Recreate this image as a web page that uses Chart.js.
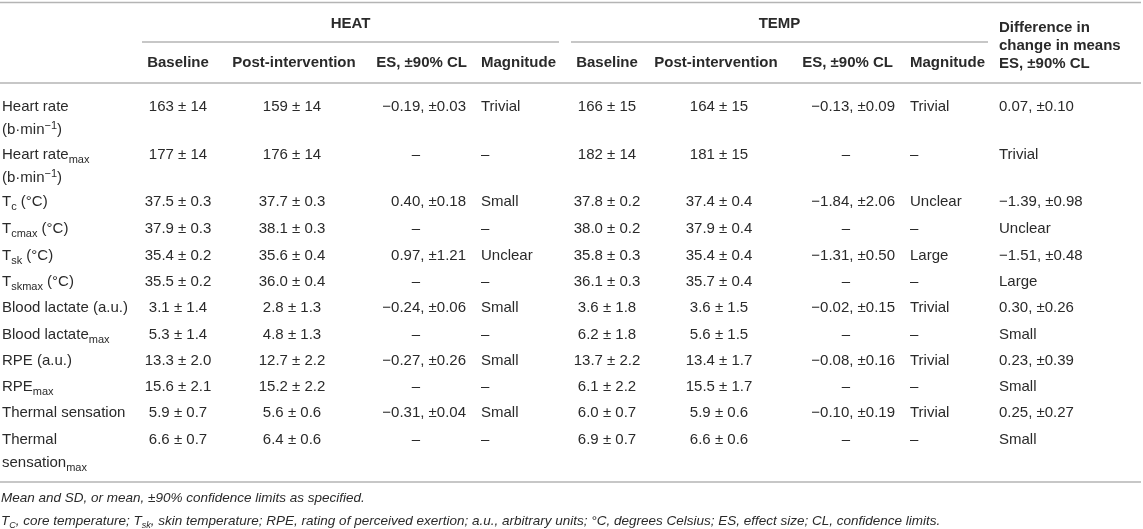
<!DOCTYPE html>
<html>
<head>
<meta charset="utf-8">
<script src="https://cdn.jsdelivr.net/npm/chart.js@4.4.1/dist/chart.umd.min.js"></script>
<style>
  html, body { margin: 0; padding: 0; background: #fff; }
  #wrap { width: 1143px; height: 529px; position: relative; }
</style>
</head>
<body>
<div id="wrap"><canvas id="tbl"></canvas></div>
<script>
// ==========================================
// TABLE DATA
// _{..} = subscript, ^{..} = superscript
// ==========================================
const groupTitles = ['HEAT', 'TEMP'];
const columnHeads = ['Baseline', 'Post-intervention', 'ES, \u00b190% CL', 'Magnitude'];
const diffHead = ['Difference in', 'change in means', 'ES, \u00b190% CL'];

const rowLabels = [
    ['Heart rate', '(b\u00b7min^{\u22121})'],
    ['Heart rate_{max}', '(b\u00b7min^{\u22121})'],
    ['T_{c} (\u00b0C)'],
    ['T_{cmax} (\u00b0C)'],
    ['T_{sk} (\u00b0C)'],
    ['T_{skmax} (\u00b0C)'],
    ['Blood lactate (a.u.)'],
    ['Blood lactate_{max}'],
    ['RPE (a.u.)'],
    ['RPE_{max}'],
    ['Thermal sensation'],
    ['Thermal', 'sensation_{max}']
];

const heatBaseline = ['163 \u00b1 14', '177 \u00b1 14', '37.5 \u00b1 0.3', '37.9 \u00b1 0.3', '35.4 \u00b1 0.2', '35.5 \u00b1 0.2', '3.1 \u00b1 1.4', '5.3 \u00b1 1.4', '13.3 \u00b1 2.0', '15.6 \u00b1 2.1', '5.9 \u00b1 0.7', '6.6 \u00b1 0.7'];
const heatPost     = ['159 \u00b1 14', '176 \u00b1 14', '37.7 \u00b1 0.3', '38.1 \u00b1 0.3', '35.6 \u00b1 0.4', '36.0 \u00b1 0.4', '2.8 \u00b1 1.3', '4.8 \u00b1 1.3', '12.7 \u00b1 2.2', '15.2 \u00b1 2.2', '5.6 \u00b1 0.6', '6.4 \u00b1 0.6'];
const heatES       = ['\u22120.19, \u00b10.03', '\u2013', '0.40, \u00b10.18', '\u2013', '0.97, \u00b11.21', '\u2013', '\u22120.24, \u00b10.06', '\u2013', '\u22120.27, \u00b10.26', '\u2013', '\u22120.31, \u00b10.04', '\u2013'];
const heatMag      = ['Trivial', '\u2013', 'Small', '\u2013', 'Unclear', '\u2013', 'Small', '\u2013', 'Small', '\u2013', 'Small', '\u2013'];

const tempBaseline = ['166 \u00b1 15', '182 \u00b1 14', '37.8 \u00b1 0.2', '38.0 \u00b1 0.2', '35.8 \u00b1 0.3', '36.1 \u00b1 0.3', '3.6 \u00b1 1.8', '6.2 \u00b1 1.8', '13.7 \u00b1 2.2', '6.1 \u00b1 2.2', '6.0 \u00b1 0.7', '6.9 \u00b1 0.7'];
const tempPost     = ['164 \u00b1 15', '181 \u00b1 15', '37.4 \u00b1 0.4', '37.9 \u00b1 0.4', '35.4 \u00b1 0.4', '35.7 \u00b1 0.4', '3.6 \u00b1 1.5', '5.6 \u00b1 1.5', '13.4 \u00b1 1.7', '15.5 \u00b1 1.7', '5.9 \u00b1 0.6', '6.6 \u00b1 0.6'];
const tempES       = ['\u22120.13, \u00b10.09', '\u2013', '\u22121.84, \u00b12.06', '\u2013', '\u22121.31, \u00b10.50', '\u2013', '\u22120.02, \u00b10.15', '\u2013', '\u22120.08, \u00b10.16', '\u2013', '\u22120.10, \u00b10.19', '\u2013'];
const tempMag      = ['Trivial', '\u2013', 'Unclear', '\u2013', 'Large', '\u2013', 'Trivial', '\u2013', 'Trivial', '\u2013', 'Trivial', '\u2013'];

const diffES = ['0.07, \u00b10.10', 'Trivial', '\u22121.39, \u00b10.98', 'Unclear', '\u22121.51, \u00b10.48', 'Large', '0.30, \u00b10.26', 'Small', '0.23, \u00b10.39', 'Small', '0.25, \u00b10.27', 'Small'];

const footnotes = [
    'Mean and SD, or mean, \u00b190% confidence limits as specified.',
    'T_{C}, core temperature; T_{sk}, skin temperature; RPE, rating of perceived exertion; a.u., arbitrary units; \u00b0C, degrees Celsius; ES, effect size; CL, confidence limits.'
];

// ==========================================
// LAYOUT (scale units = px of the 1143x529 page)
// ==========================================
const W = 1143, H = 529;
const FAMILY = '"Liberation Sans", Arial, Helvetica, sans-serif';
const TEXT = '#2a2a2a';
const RULE = '#b4b4b4';

const rowY = [106, 154, 201, 228, 255, 281, 307, 334, 360, 386, 412, 439];
const lineGap = 23;

// column anchors: x, alignment; dash cells use dashX centred
const cols = [
    { vals: heatBaseline, x: 178, align: 'center' },
    { vals: heatPost,     x: 292, align: 'center' },
    { vals: heatES,       x: 466, align: 'right', dashX: 416 },
    { vals: heatMag,      x: 481, align: 'left' },
    { vals: tempBaseline, x: 607, align: 'center' },
    { vals: tempPost,     x: 719, align: 'center' },
    { vals: tempES,       x: 895, align: 'right', dashX: 846 },
    { vals: tempMag,      x: 910, align: 'left' },
    { vals: diffES,       x: 999, align: 'left' }
];
const headX = [
    { x: 178, align: 'center' }, { x: 294, align: 'center' }, { x: 467, align: 'right' }, { x: 481, align: 'left' },
    { x: 607, align: 'center' }, { x: 716, align: 'center' }, { x: 893, align: 'right' }, { x: 910, align: 'left' }
];
const groupSpans = [[142, 559], [571, 988]];
const titleY = 23, headY = 62, diffY = [27, 45, 63];
const rules = [[0, W - 2, 2.5], [142, 559, 42], [571, 988, 42], [0, W - 2, 83], [0, W - 2, 482]];
const footY = [497, 520];

// ==========================================
// DATASETS
// ==========================================
const datasets = [];

function textSet(points, texts, aligns, font) {
    datasets.push({
        data: points, texts: texts, aligns: aligns, font: font,
        pointRadius: 0, pointHoverRadius: 0, showLine: false
    });
}

const bodyFont = { size: 15, weight: 'normal', style: 'normal' };
const headFont = { size: 15, weight: 'bold', style: 'normal' };
const noteFont = { size: 13.5, weight: 'normal', style: 'italic' };

// row labels
(function () {
    const pts = [], txt = [], al = [];
    rowLabels.forEach((lines, i) => {
        lines.forEach((l, k) => {
            pts.push({ x: 2, y: rowY[i] + k * lineGap });
            txt.push(l);
            al.push('left');
        });
    });
    textSet(pts, txt, al, bodyFont);
})();

// value columns
cols.forEach(c => {
    const pts = [], al = [];
    c.vals.forEach((v, i) => {
        const dash = v === '\u2013' && c.dashX;
        pts.push({ x: dash ? c.dashX : c.x, y: rowY[i] });
        al.push(dash ? 'center' : c.align);
    });
    textSet(pts, c.vals.slice(), al, bodyFont);
});

// group titles
textSet(groupSpans.map(s => ({ x: (s[0] + s[1]) / 2, y: titleY })), groupTitles.slice(), ['center', 'center'], headFont);

// column heads (repeated for both groups)
textSet(headX.map(h => ({ x: h.x, y: headY })), columnHeads.concat(columnHeads), headX.map(h => h.align), headFont);

// difference head
textSet(diffY.map(y => ({ x: 999, y: y })), diffHead.slice(), ['left', 'left', 'left'], headFont);

// footnotes
textSet(footY.map(y => ({ x: 1, y: y })), footnotes.slice(), ['left', 'left'], noteFont);

// horizontal rules
rules.forEach(r => {
    datasets.push({
        data: [{ x: r[0], y: r[2] }, { x: r[1], y: r[2] }],
        showLine: true, borderColor: RULE, borderWidth: 1.6,
        pointRadius: 0, pointHoverRadius: 0, fill: false
    });
});

// ==========================================
// RICH TEXT DRAWING
// ==========================================
function parseRich(s) {
    const parts = [];
    const re = /([_^])\{([^}]*)\}/g;
    let last = 0, m;
    while ((m = re.exec(s))) {
        if (m.index > last) parts.push({ t: s.slice(last, m.index), k: 'n' });
        parts.push({ t: m[2], k: m[1] === '_' ? 'sub' : 'sup' });
        last = re.lastIndex;
    }
    if (last < s.length) parts.push({ t: s.slice(last), k: 'n' });
    return parts;
}

function fontOf(f, kind) {
    const size = kind === 'n' ? f.size : Math.round(f.size * 0.7);
    return `${f.style} ${f.weight} ${size}px ${FAMILY}`;
}

function drawRich(ctx, s, x, y, align, f) {
    const parts = parseRich(s);
    let total = 0;
    parts.forEach(p => { ctx.font = fontOf(f, p.k); p.w = ctx.measureText(p.t).width; total += p.w; });
    let cx = align === 'center' ? x - total / 2 : align === 'right' ? x - total : x;
    const base = y + f.size * 0.36;
    parts.forEach(p => {
        ctx.font = fontOf(f, p.k);
        let by = base;
        if (p.k === 'sub') by = base + f.size * 0.22;
        if (p.k === 'sup') by = base - f.size * 0.38;
        ctx.fillText(p.t, cx, by);
        cx += p.w;
    });
}

const tablePlugin = {
    id: 'tableText',
    afterDatasetsDraw(chart) {
        const ctx = chart.ctx;
        ctx.save();
        ctx.fillStyle = TEXT;
        ctx.textAlign = 'left';
        ctx.textBaseline = 'alphabetic';
        chart.data.datasets.forEach((ds, i) => {
            if (!ds.texts) return;
            chart.getDatasetMeta(i).data.forEach((pt, j) => {
                drawRich(ctx, ds.texts[j], pt.x, pt.y, ds.aligns[j], ds.font);
            });
        });
        ctx.restore();
    }
};

new Chart(document.getElementById('tbl'), {
    type: 'scatter',
    data: { datasets: datasets },
    options: {
        responsive: true,
        maintainAspectRatio: false,
        animation: false,
        events: [],
        layout: { padding: 0 },
        plugins: { legend: { display: false }, tooltip: { enabled: false } },
        scales: {
            x: { type: 'linear', min: 0, max: W, display: false },
            y: { type: 'linear', min: 0, max: H, reverse: true, display: false }
        }
    },
    plugins: [tablePlugin]
});
</script>
</body>
</html>
